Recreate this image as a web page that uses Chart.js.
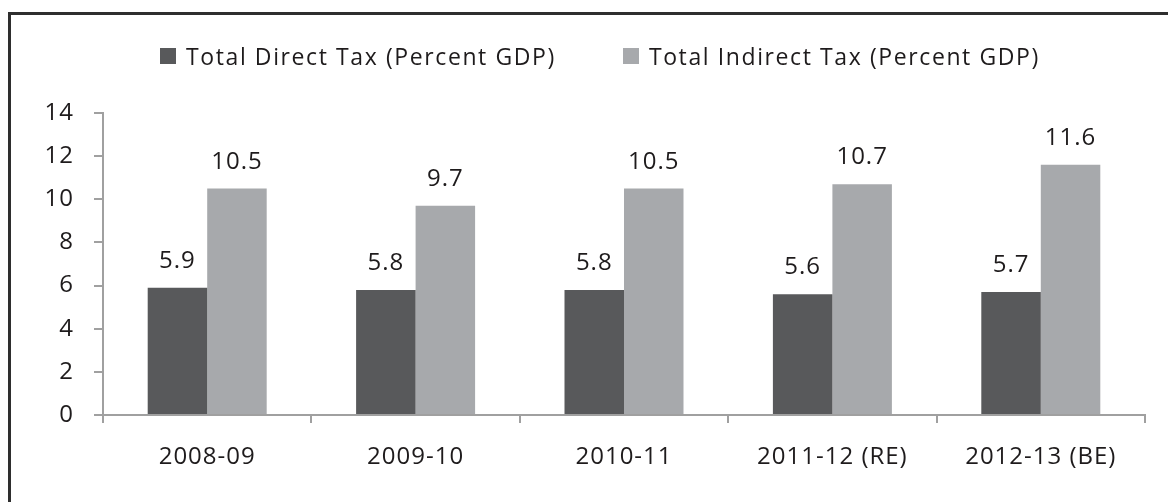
<!DOCTYPE html>
<html lang="en">
<head>
  <meta charset="UTF-8">
  <title>Direct vs Indirect Tax (Percent GDP)</title>
  <script src="https://cdn.jsdelivr.net/npm/chart.js@4"></script>
  <style>
    html, body { margin: 0; padding: 0; background: #fff; }
    .wrap { position: relative; width: 1168px; height: 502px; overflow: hidden; font-family: "Open Sans", sans-serif; }
    .frame { position: absolute; left: 8px; top: 12px; width: 1300px; height: 700px; border-top: 3px solid #2e2e2e; border-left: 3px solid #2e2e2e; pointer-events: none; }
    canvas { position: absolute; left: 0; top: 0; }
    .legend { position: absolute; left: 160px; top: 45px; display: flex; gap: 67px; color: #1e1b1c; font-size: 23px; line-height: 22px; letter-spacing: 1.6px; }
    .legend .item { display: flex; align-items: center; white-space: nowrap; }
    .legend .box { width: 16px; height: 16px; margin-right: 10px; }
  </style>
</head>
<body>
  <div class="wrap">
    <canvas id="chart" width="1168" height="502"></canvas>
    <div class="legend" id="legend"></div>
    <div class="frame"></div>
  </div>
  <script>
    const categories = ['2008-09', '2009-10', '2010-11', '2011-12 (RE)', '2012-13 (BE)'];
    const directTax = [5.9, 5.8, 5.8, 5.6, 5.7];
    const indirectTax = [10.5, 9.7, 10.5, 10.7, 11.6];
    const seriesLabels = ['Total Direct Tax (Percent GDP)', 'Total Indirect Tax (Percent GDP)'];
    const seriesColors = ['#58595b', '#a7a9ac'];
    const yMin = 0, yMax = 14, yStep = 2;

    const axisColor = '#a0a0a0';
    const textColor = '#1e1b1c';

    // legend (html, built from the series arrays)
    document.getElementById('legend').innerHTML = seriesLabels.map((l, i) =>
      '<div class="item"><span class="box" style="background:' + seriesColors[i] + '"></span>' + l + '</div>'
    ).join('');

    // value labels above each bar
    const valueLabels = {
      id: 'valueLabels',
      afterDatasetsDraw(chart) {
        const ctx = chart.ctx;
        ctx.save();
        ctx.font = '24px "Open Sans"';
        ctx.fillStyle = textColor;
        ctx.textAlign = 'center';
        ctx.textBaseline = 'alphabetic';
        chart.data.datasets.forEach((ds, di) => {
          chart.getDatasetMeta(di).data.forEach((bar, i) => {
            ctx.fillText(ds.data[i].toFixed(1), bar.x, bar.y - 20);
          });
        });
        ctx.restore();
      }
    };

    const spacing = {
      id: 'spacing',
      beforeDraw(chart) { chart.ctx.letterSpacing = '1px'; }
    };

    new Chart(document.getElementById('chart'), {
      type: 'bar',
      data: {
        labels: categories,
        datasets: [
          { label: seriesLabels[0], data: directTax, backgroundColor: seriesColors[0] },
          { label: seriesLabels[1], data: indirectTax, backgroundColor: seriesColors[1] },
        ],
      },
      options: {
        responsive: false,
        animation: false,
        layout: { padding: { top: 113, right: 23, left: 0, bottom: 0 } },
        datasets: { bar: { categoryPercentage: 0.571, barPercentage: 1 } },
        scales: {
          x: {
            afterFit: s => { s.height = 87; },
            grid: { offset: true, drawOnChartArea: false, color: axisColor, lineWidth: 2, tickLength: 8 },
            border: { display: true, color: axisColor, width: 2 },
            ticks: { color: textColor, font: { family: 'Open Sans', size: 24 }, padding: 20, maxRotation: 0 },
          },
          y: {
            min: yMin,
            max: yMax,
            afterFit: s => { s.width = 103; },
            grid: { drawOnChartArea: false, color: axisColor, lineWidth: 2, tickLength: 9 },
            border: { display: true, color: axisColor, width: 2 },
            ticks: { stepSize: yStep, color: textColor, font: { family: 'Open Sans', size: 24 }, padding: 20 },
          },
        },
        plugins: {
          legend: { display: false },
          tooltip: { enabled: false },
        },
      },
      plugins: [spacing, valueLabels],
    });
  </script>
</body>
</html>
